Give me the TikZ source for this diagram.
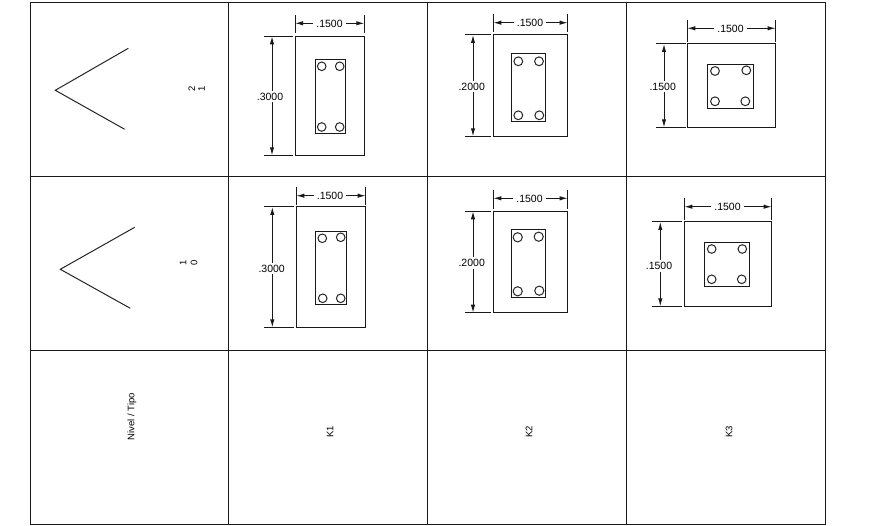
\documentclass[tikz,border=0pt]{standalone}
\usepackage{fontspec}
\setmainfont{Liberation Sans}
\usetikzlibrary{arrows.meta}
\tikzset{
  grid line/.style={line width=1pt,draw=black!90},
  sect/.style={line width=1pt,draw=black!90},
  bar/.style={line width=1pt,draw=black!85},
  ext/.style={line width=1pt,draw=black!90},
  dimline/.style={line width=1pt,draw=black!90,{Latex[length=8pt,width=4.4pt]}-{Latex[length=8pt,width=4.4pt]}},
  dimtext/.style={fill=white,font=\fontsize{10.5}{11}\selectfont,inner xsep=3pt,inner ysep=2pt,yshift=-0.6pt},
  rot/.style={rotate=90,font=\fontsize{9.5}{10}\selectfont,inner sep=0pt},
  chev/.style={line width=1pt,draw=black!85},
}
% outer x0 x1 y0 y1, inner x0 x1 y0 y1
\newcommand{\secrects}[8]{%
  \draw[sect] (#1,#3) rectangle (#2,#4);
  \draw[sect] (#5,#7) rectangle (#6,#8);}
\begin{document}
\begin{tikzpicture}[x=1pt,y=-1pt]
\useasboundingbox (0,0) rectangle (885,526);
\fill[white] (0,0) rectangle (885,526);
% table
\draw[grid line] (30,3) rectangle (825,524);
\foreach \x in {228,427,626.5} \draw[grid line] (\x,3) -- (\x,524);
\foreach \y in {177,350} \draw[grid line] (30,\y) -- (825,\y);
% chevrons
\draw[chev] (128.3,48.3) -- (55.3,90.3) -- (124.7,129.3);
\draw[chev] (134.7,227.3) -- (60.3,269.3) -- (130.3,308.3);
% row labels
\node[rot] (n2) at (191.7,89) {2};
\node[rot] (n1) at (201.7,89) {1};
\node[rot] (m1) at (183,263) {1};
\node[rot] (m0) at (194,263) {0};
\node[rot] (hd) at (132,416.5) {Nivel / Tipo};
\node[rot] (k1) at (330,432) {K1};
\node[rot] (k2) at (529,432) {K2};
\node[rot] (k3) at (729,432) {K3};
% ---- row 1, K1
\secrects{295}{364.3}{36.3}{155.3}{315.3}{345.7}{59.3}{133.7}
\foreach \p in {(321.7,66.3),(339.7,66.3),(321.7,127),(339.7,127)} \draw[bar] \p circle (4.3);
\draw[ext] (295,15) -- (295,33.3) (364.3,15) -- (364.3,33.3);
\draw[dimline] (295,23.3) -- (364.3,23.3);
\node[dimtext] (a1) at (329.5,23.3) {.1500};
\draw[ext] (264.3,36.3) -- (292.7,36.3) (264.3,155.3) -- (292.7,155.3);
\draw[dimline] (272,36.3) -- (272,155.3);
\node[dimtext] (a2) at (270,96) {.3000};
% ---- row 1, K2
\secrects{493.3}{567.7}{35}{136.3}{511.3}{545.7}{54}{121.7}
\foreach \p in {(518.3,61.3),(539,61.3),(518.3,115.3),(539.3,115.3)} \draw[bar] \p circle (4.4);
\draw[ext] (493.3,14) -- (493.3,32.3) (567.7,14) -- (567.7,32.3);
\draw[dimline] (493.3,22.7) -- (567.7,22.7);
\node[dimtext] (b1) at (530,22.7) {.1500};
\draw[ext] (465,35) -- (491,35) (465,136.3) -- (491,136.3);
\draw[dimline] (473,35) -- (473,136.3);
\node[dimtext] (b2) at (471.7,86) {.2000};
% ---- row 1, K3
\secrects{687.3}{775.7}{44}{127.3}{707.3}{753.7}{64.3}{108.3}
\foreach \p in {(715,71),(746.3,70.3),(715,101.3),(745.3,101.3)} \draw[bar] \p circle (4.4);
\draw[ext] (687.3,20) -- (687.3,41.7) (775.7,20) -- (775.7,41.7);
\draw[dimline] (687.3,28.3) -- (775.7,28.3);
\node[dimtext] (c1) at (730.5,28.3) {.1500};
\draw[ext] (656,44) -- (685.7,44) (656,127.3) -- (685.7,127.3);
\draw[dimline] (664,44) -- (664,127.3);
\node[dimtext] (c2) at (662.7,86) {.1500};
% ---- row 2, K1
\secrects{296.3}{365.7}{207}{327.3}{315.3}{346.7}{231.3}{304.7}
\foreach \p in {(322.3,238.3),(340.7,237.3),(322.7,298.3),(340.7,298.3)} \draw[bar] \p circle (4.3);
\draw[ext] (296.3,187) -- (296.3,204.7) (365.7,187) -- (365.7,204.7);
\draw[dimline] (296.3,195.7) -- (365.7,195.7);
\node[dimtext] (d1) at (330,195.7) {.1500};
\draw[ext] (264,207) -- (294,207) (264,327.3) -- (294,327.3);
\draw[dimline] (272.3,207) -- (272.3,327.3);
\node[dimtext] (d2) at (271.7,268) {.3000};
% ---- row 2, K2
\secrects{493.3}{567.7}{211.3}{312.7}{511.3}{545.7}{230}{297.7}
\foreach \p in {(517.7,237.3),(538.7,236.7),(517.7,291.3),(539.3,290.7)} \draw[bar] \p circle (4.6);
\draw[ext] (493.3,190.3) -- (493.3,209) (567.7,190.3) -- (567.7,209);
\draw[dimline] (493.3,198.3) -- (567.7,198.3);
\node[dimtext] (e1) at (529.5,198.3) {.1500};
\draw[ext] (465,211.3) -- (491,211.3) (465,312.7) -- (491,312.7);
\draw[dimline] (473,211.3) -- (473,312.7);
\node[dimtext] (e2) at (471.7,262.3) {.2000};
% ---- row 2, K3
\secrects{684.3}{771.7}{222}{306.3}{704.3}{749.7}{242.3}{286.3}
\foreach \p in {(711.7,249),(742.3,249),(711.7,279.3),(741.7,279.3)} \draw[bar] \p circle (4.3);
\draw[ext] (684.3,198) -- (684.3,219.7) (771.7,198) -- (771.7,219.7);
\draw[dimline] (684.3,206.7) -- (771.7,206.7);
\node[dimtext] (f1) at (727.5,206.7) {.1500};
\draw[ext] (652,222) -- (682,222) (652,306.3) -- (682,306.3);
\draw[dimline] (660.3,222) -- (660.3,306.3);
\node[dimtext] (f2) at (659,265.3) {.1500};
\end{tikzpicture}
\end{document}
